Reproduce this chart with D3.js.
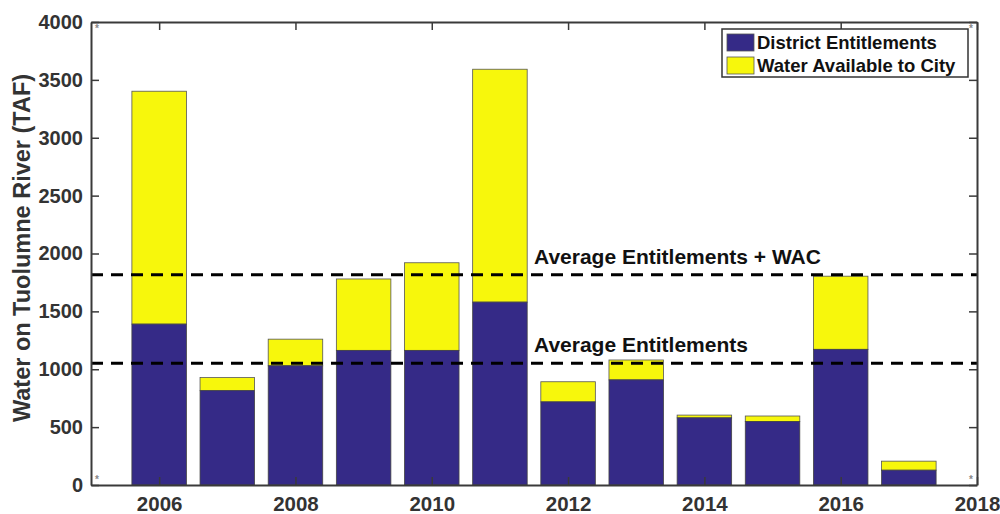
<!DOCTYPE html>
<html>
<head>
<meta charset="utf-8">
<script src="https://cdn.jsdelivr.net/npm/d3@7"></script>
<style>
  body { margin: 0; background: #fff; }
  text { font-family: Arial, "Liberation Sans", sans-serif; font-weight: bold; }
</style>
</head>
<body>
<div id="chart"></div>
<script>
// data (TAF)
var years = [2006, 2007, 2008, 2009, 2010, 2011, 2012, 2013, 2014, 2015, 2016, 2017];
var district = [1390, 815, 1030, 1163, 1163, 1580, 718, 908, 580, 548, 1172, 128];
var cityWater = [2012, 113, 230, 617, 757, 2012, 174, 172, 24, 48, 632, 78];
var avgLines = [
  { value: 1817, label: "Average Entitlements + WAC" },
  { value: 1052, label: "Average Entitlements" }
];
var xTicks = [2006, 2008, 2010, 2012, 2014, 2016, 2018];
var yTicks = [0, 500, 1000, 1500, 2000, 2500, 3000, 3500, 4000];
var seriesNames = ["District Entitlements", "Water Available to City"];

var W = 1000, H = 514;
var margin = { top: 22, right: 23, bottom: 29, left: 91 };
var width = W - margin.left - margin.right,
    height = H - margin.top - margin.bottom;

var colors = ["#352a87", "#f7f70c"];
var axisCol = "#3a3a3a";

var svg = d3.select("#chart").append("svg")
    .attr("width", W)
    .attr("height", H)
  .append("g")
    .attr("transform", "translate(" + margin.left + "," + margin.top + ")");

var x = d3.scaleLinear().domain([2005, 2018]).range([0, width]);
var y = d3.scaleLinear().domain([0, 4000]).range([height, 0]);
var barW = (x(2006) - x(2005)) * 0.8;

var rows = years.map(function(yr, i) {
  return { year: yr, d: district[i], c: cityWater[i] };
});

// bars
var bars = svg.append("g").attr("class", "bars");
bars.selectAll(".city")
    .data(rows)
  .enter().append("rect")
    .attr("class", "city")
    .attr("x", function(d) { return x(d.year) - barW / 2; })
    .attr("y", function(d) { return y(d.d + d.c); })
    .attr("width", barW)
    .attr("height", function(d) { return y(d.d) - y(d.d + d.c); })
    .attr("fill", colors[1])
    .attr("stroke", "#555")
    .attr("stroke-width", 0.8);

bars.selectAll(".district")
    .data(rows)
  .enter().append("rect")
    .attr("class", "district")
    .attr("x", function(d) { return x(d.year) - barW / 2; })
    .attr("y", function(d) { return y(d.d); })
    .attr("width", barW)
    .attr("height", function(d) { return y(0) - y(d.d); })
    .attr("fill", colors[0])
    .attr("stroke", "#444")
    .attr("stroke-width", 0.8);

// average lines
svg.selectAll(".avg")
    .data(avgLines)
  .enter().append("line")
    .attr("class", "avg")
    .attr("x1", 0)
    .attr("x2", width)
    .attr("y1", function(d) { return y(d.value); })
    .attr("y2", function(d) { return y(d.value); })
    .attr("stroke", "#000")
    .attr("stroke-width", 3)
    .attr("stroke-dasharray", "12,8");

svg.selectAll(".avgLabel")
    .data(avgLines)
  .enter().append("text")
    .attr("class", "avgLabel")
    .attr("x", x(2011.5))
    .attr("y", function(d) { return y(d.value) - 11; })
    .attr("font-size", 21)
    .attr("fill", "#111")
    .text(function(d) { return d.label; });

// axes
var xAxis = d3.axisBottom(x).tickValues(xTicks).tickFormat(d3.format("d")).tickSizeInner(-8).tickSizeOuter(0).tickPadding(11);
var yAxis = d3.axisLeft(y).tickValues(yTicks).tickFormat(d3.format("d")).tickSizeInner(-8).tickSizeOuter(0).tickPadding(8);

var gX = svg.append("g")
    .attr("transform", "translate(0," + height + ")")
    .call(xAxis);
var gY = svg.append("g").call(yAxis);

svg.append("g").call(d3.axisTop(x).tickValues(xTicks).tickFormat("").tickSizeInner(-8).tickSizeOuter(0));
svg.append("g").attr("transform", "translate(" + width + ",0)")
    .call(d3.axisRight(y).tickValues(yTicks).tickFormat("").tickSizeInner(-8).tickSizeOuter(0));

svg.selectAll(".domain").attr("stroke", axisCol).attr("stroke-width", 2);
svg.selectAll(".tick line").attr("stroke", axisCol).attr("stroke-width", 1.5);
gX.selectAll("text").attr("font-size", 20.5).attr("fill", "#333").attr("font-family", "Arial, sans-serif");
gY.selectAll("text").attr("font-size", 20).attr("fill", "#333").attr("font-family", "Arial, sans-serif");

svg.append("text")
    .attr("transform", "rotate(-90)")
    .attr("x", -226)
    .attr("y", -61)
    .attr("text-anchor", "middle")
    .attr("font-size", 23.5)
    .attr("fill", "#333")
    .text("Water on Tuolumne River (TAF)");

// little corner marks
var corners = [[6, 10], [6, height - 2], [width - 6, height - 2], [width - 6, 10]];
svg.selectAll(".star")
    .data(corners)
  .enter().append("text")
    .attr("x", function(d) { return d[0]; })
    .attr("y", function(d) { return d[1]; })
    .attr("text-anchor", "middle")
    .attr("font-size", 10)
    .attr("font-weight", "normal")
    .attr("fill", "#888")
    .text("*");

// legend
var legend = svg.append("g").attr("transform", "translate(" + (722 - margin.left) + "," + (29 - margin.top) + ")");
legend.append("rect")
    .attr("width", 246)
    .attr("height", 48)
    .attr("fill", "#fff")
    .attr("stroke", "#333")
    .attr("stroke-width", 1.5);
var li = legend.selectAll(".li")
    .data(seriesNames)
  .enter().append("g")
    .attr("transform", function(d, i) { return "translate(5," + (5 + i * 23) + ")"; });
li.append("rect")
    .attr("width", 27)
    .attr("height", 17)
    .attr("fill", function(d, i) { return colors[i]; })
    .attr("stroke", "#555")
    .attr("stroke-width", 0.8);
li.append("text")
    .attr("x", 30)
    .attr("y", 15)
    .attr("font-size", 18.5)
    .attr("fill", "#111")
    .text(function(d) { return d; });
</script>
</body>
</html>
